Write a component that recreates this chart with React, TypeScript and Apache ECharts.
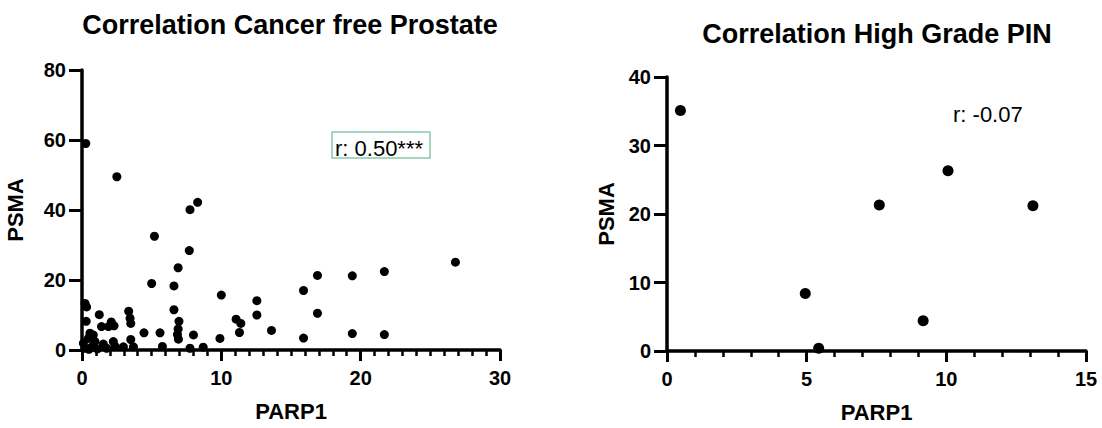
import React, { useEffect, useRef } from "react";
import * as echarts from "echarts";

const FONT = "'Liberation Sans', Arial, Helvetica, sans-serif";

const leftTitle = "Correlation Cancer free Prostate";
const rightTitle = "Correlation High Grade PIN";
const xName = "PARP1";
const yName = "PSMA";
const leftNote = "r: 0.50***";
const rightNote = "r: -0.07";

const leftXTicks = { min: 0, max: 30, interval: 10 };
const leftYTicks = { min: 0, max: 80, interval: 20 };
const rightXTicks = { min: 0, max: 15, interval: 5 };
const rightYTicks = { min: 0, max: 40, interval: 10 };

// Cancer free prostate: [PARP1, PSMA]
const cancerFree: number[][] = [
  [0.27, 59.0], [2.5, 49.5], [8.3, 42.2], [7.75, 40.1], [5.2, 32.5],
  [7.7, 28.4], [26.8, 25.1], [6.9, 23.5], [21.7, 22.4], [19.4, 21.2],
  [16.9, 21.3], [5.0, 19.0], [6.6, 18.3], [15.9, 17.0], [10.0, 15.7],
  [12.55, 14.1], [0.22, 13.3], [0.33, 12.3], [6.6, 11.5], [3.35, 11.1],
  [16.9, 10.5], [1.24, 10.1], [12.55, 10.0], [3.45, 9.1], [11.06, 8.8],
  [0.3, 8.2], [6.96, 8.2], [2.1, 8.0], [11.4, 7.6], [3.5, 7.6],
  [1.4, 6.7], [1.9, 6.7], [2.3, 6.9], [6.9, 6.0], [13.6, 5.6],
  [11.3, 5.0], [4.45, 4.9], [5.6, 4.9], [0.57, 4.8], [19.4, 4.7],
  [6.85, 4.4], [21.7, 4.4], [0.81, 4.3], [8.0, 4.3], [9.9, 3.3],
  [15.9, 3.4], [0.45, 3.3], [0.7, 3.3], [3.5, 3.0], [6.92, 3.1],
  [0.93, 2.4], [2.25, 2.4], [0.1, 1.9], [1.53, 1.7], [2.37, 1.1],
  [5.77, 1.0], [2.97, 0.9], [3.69, 0.9], [0.7, 0.9], [8.7, 0.8],
  [0.22, 0.5], [1.77, 0.5], [7.75, 0.5], [1.1, 0.3], [0.5, 0.2],
];

// High grade PIN: [PARP1, PSMA]
const highGradePin: number[][] = [
  [0.48, 35.1], [10.06, 26.3], [7.6, 21.3], [13.1, 21.2],
  [4.95, 8.4], [9.17, 4.4], [5.43, 0.4],
];

const axisLineStyle = { color: "#000", width: 3.5 };
const labelStyle = { fontSize: 20, fontWeight: "bold" as const, color: "#000", fontFamily: FONT };
const nameStyle = { fontSize: 22, fontWeight: "bold" as const, color: "#000", fontFamily: FONT };

function xAxis(grid: number, t: { min: number; max: number; interval: number }, minorSplit: number, nameGap: number) {
  return {
    gridIndex: grid,
    type: "value",
    min: t.min,
    max: t.max,
    interval: t.interval,
    axisLine: { show: true, onZero: false, lineStyle: axisLineStyle },
    axisTick: { show: true, length: 11, lineStyle: { color: "#000", width: 3 } },
    minorTick: { show: true, splitNumber: minorSplit, length: 6, lineStyle: { color: "#000", width: 2.5 } },
    splitLine: { show: false },
    minorSplitLine: { show: false },
    axisLabel: { ...labelStyle, margin: 18 },
    name: xName,
    nameLocation: "middle",
    nameGap,
    nameTextStyle: nameStyle,
  };
}

function yAxis(grid: number, t: { min: number; max: number; interval: number }, nameGap: number) {
  return {
    gridIndex: grid,
    type: "value",
    min: t.min,
    max: t.max,
    interval: t.interval,
    axisLine: { show: true, onZero: false, lineStyle: axisLineStyle },
    axisTick: { show: true, length: 13, lineStyle: { color: "#000", width: 3 } },
    splitLine: { show: false },
    axisLabel: { ...labelStyle, margin: 16 },
    name: yName,
    nameLocation: "middle",
    nameGap,
    nameTextStyle: nameStyle,
  };
}

export default function App() {
  const ref = useRef<HTMLDivElement>(null);

  useEffect(() => {
    document.body.style.margin = "0";
    if (!ref.current) return;
    const chart = echarts.init(ref.current, undefined, { renderer: "svg" });
    chart.setOption({
      animation: false,
      backgroundColor: "#fff",
      grid: [
        { left: 82, top: 70, width: 418, height: 280 },
        { left: 667, top: 77, width: 419, height: 279 },
      ],
      xAxis: [xAxis(0, leftXTicks, 10, 50), xAxis(1, rightXTicks, 5, 50)],
      yAxis: [yAxis(0, leftYTicks, 56), yAxis(1, rightYTicks, 50)],
      series: [
        {
          type: "scatter",
          xAxisIndex: 0,
          yAxisIndex: 0,
          data: cancerFree,
          symbolSize: 9,
          clip: false,
          itemStyle: { color: "#000", opacity: 1 },
        },
        {
          type: "scatter",
          xAxisIndex: 1,
          yAxisIndex: 1,
          data: highGradePin,
          symbolSize: 11,
          clip: false,
          itemStyle: { color: "#000", opacity: 1 },
        },
      ],
      graphic: [
        {
          type: "text",
          x: 290,
          y: 25,
          style: {
            text: leftTitle,
            fontSize: 27,
            fontWeight: "bold",
            fontFamily: FONT,
            fill: "#000",
            textAlign: "center",
            textVerticalAlign: "middle",
            align: "center",
            verticalAlign: "middle",
          },
        },
        {
          type: "text",
          x: 877,
          y: 34,
          style: {
            text: rightTitle,
            fontSize: 27,
            fontWeight: "bold",
            fontFamily: FONT,
            fill: "#000",
            textAlign: "center",
            textVerticalAlign: "middle",
            align: "center",
            verticalAlign: "middle",
          },
        },
        {
          type: "rect",
          shape: { x: 332, y: 132, width: 98, height: 26 },
          style: { fill: "none", stroke: "#8cc8a8", lineWidth: 1.5 },
        },
        {
          type: "text",
          x: 335,
          y: 148,
          style: {
            text: leftNote,
            fontSize: 22,
            fontFamily: FONT,
            fill: "#000",
            textAlign: "left",
            textVerticalAlign: "middle",
            align: "left",
            verticalAlign: "middle",
          },
        },
        {
          type: "text",
          x: 953,
          y: 114,
          style: {
            text: rightNote,
            fontSize: 22,
            fontFamily: FONT,
            fill: "#000",
            textAlign: "left",
            textVerticalAlign: "middle",
            align: "left",
            verticalAlign: "middle",
          },
        },
      ],
    });
    return () => chart.dispose();
  }, []);

  return <div ref={ref} style={{ width: 1102, height: 428 }} />;
}
